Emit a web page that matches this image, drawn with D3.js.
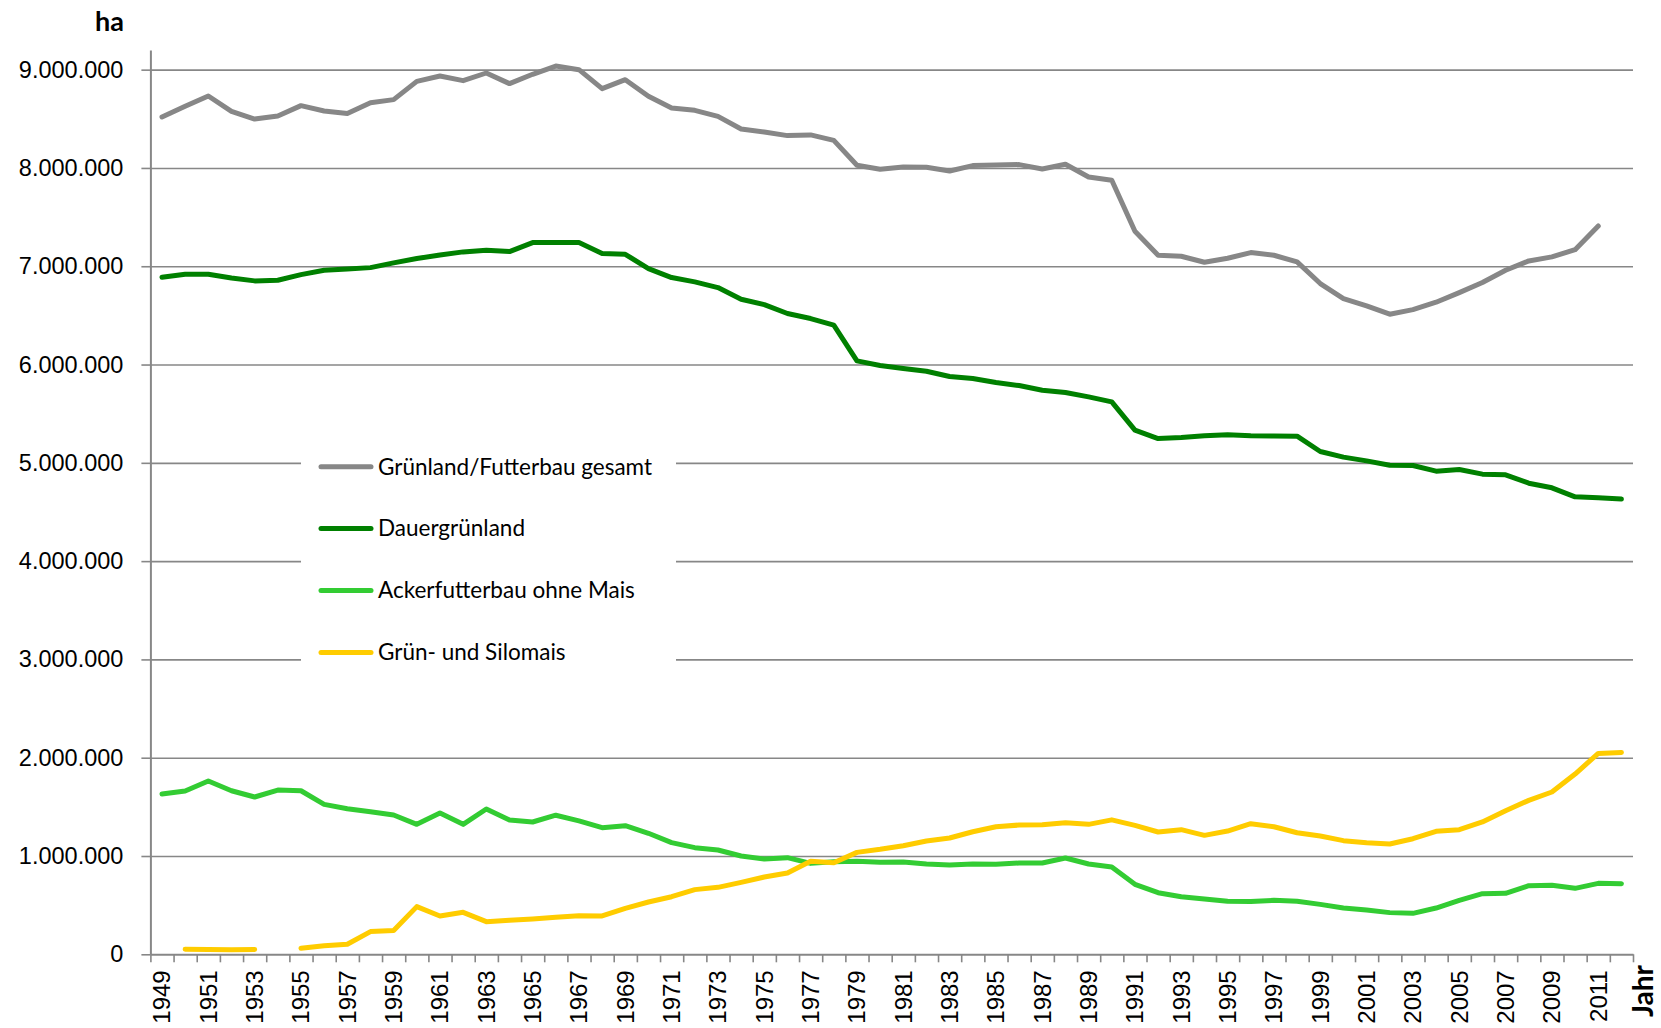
<!DOCTYPE html>
<html>
<head>
<meta charset="utf-8">
<script src="https://cdn.jsdelivr.net/npm/d3@7"></script>
<style>
  body { margin: 0; background: #fff; }
  svg { display: block; font-family: Lato, "Open Sans", sans-serif; }
</style>
</head>
<body>
<svg id="chart"></svg>
<script>
// years on the x axis
const years = d3.range(1949, 2013);

// values in hectares, one per year (null = no value)
const gesamt = [
  8519000, 8627000, 8732000, 8576000, 8498000, 8529000, 8634000, 8580000, 8553000, 8664000,
  8695000, 8881000, 8936000, 8888000, 8966000, 8858000, 8953000, 9037000, 9000000, 8807000,
  8898000, 8729000, 8610000, 8586000, 8525000, 8397000, 8366000, 8329000, 8336000, 8281000,
  8027000, 7986000, 8010000, 8007000, 7969000, 8024000, 8031000, 8034000, 7990000, 8037000,
  7908000, 7875000, 7356000, 7112000, 7102000, 7041000, 7081000, 7139000, 7112000, 7044000,
  6824000, 6671000, 6597000, 6512000, 6559000, 6634000, 6732000, 6834000, 6959000, 7054000,
  7095000, 7169000, 7410000, null
];
const dauergruenland = [
  6888000, 6919000, 6919000, 6881000, 6851000, 6858000, 6915000, 6959000, 6973000, 6986000,
  7034000, 7078000, 7115000, 7146000, 7163000, 7149000, 7241000, 7241000, 7241000, 7129000,
  7122000, 6976000, 6885000, 6841000, 6783000, 6664000, 6610000, 6519000, 6468000, 6400000,
  6037000, 5990000, 5959000, 5932000, 5878000, 5858000, 5817000, 5786000, 5739000, 5715000,
  5671000, 5620000, 5332000, 5247000, 5258000, 5275000, 5285000, 5275000, 5273000, 5271000,
  5115000, 5058000, 5020000, 4976000, 4973000, 4915000, 4932000, 4885000, 4878000, 4793000,
  4746000, 4654000, 4644000, 4631000
];
const ackerfutter = [
  1631000, 1661000, 1763000, 1664000, 1600000, 1671000, 1664000, 1525000, 1481000, 1451000,
  1417000, 1322000, 1437000, 1322000, 1478000, 1366000, 1346000, 1415000, 1358000, 1288000,
  1308000, 1231000, 1136000, 1085000, 1061000, 1000000, 969000, 983000, 925000, 942000,
  946000, 936000, 939000, 919000, 908000, 919000, 915000, 929000, 929000, 980000,
  919000, 888000, 712000, 627000, 586000, 563000, 539000, 536000, 549000, 539000,
  508000, 471000, 451000, 424000, 417000, 471000, 549000, 617000, 620000, 698000,
  702000, 671000, 722000, 719000
];
const silomais = [
  null, 51000, 50000, 47000, 50000, null, 61000, 88000, 102000, 231000,
  241000, 485000, 390000, 427000, 332000, 346000, 359000, 376000, 393000, 390000,
  468000, 532000, 586000, 658000, 681000, 732000, 786000, 827000, 946000, 932000,
  1037000, 1068000, 1105000, 1153000, 1183000, 1247000, 1298000, 1315000, 1319000, 1339000,
  1322000, 1368000, 1312000, 1244000, 1268000, 1210000, 1254000, 1329000, 1298000, 1237000,
  1203000, 1156000, 1136000, 1122000, 1176000, 1251000, 1268000, 1346000, 1461000, 1566000,
  1651000, 1834000, 2044000, 2054000
];

const seriesNames = [
  "Grünland/Futterbau gesamt",
  "Dauergrünland",
  "Ackerfutterbau ohne Mais",
  "Grün- und Silomais",
];
const seriesColors = ["#878787", "#008000", "#33cc33", "#ffcc00"];
const seriesValues = [gesamt, dauergruenland, ackerfutter, silomais];

const yTicks = [0, 1000000, 2000000, 3000000, 4000000, 5000000, 6000000, 7000000, 8000000, 9000000];

// chart dimensions
const width = 1661;
const height = 1028;
const plotLeft = 150.4;
const plotRight = 1633;
const plotTop = 50;
const plotBottom = 954.3;

const de = d3.formatLocale({ decimal: ",", thousands: ".", grouping: [3], currency: ["", " €"] });
const fmt = de.format(",d");

const svg = d3.select("#chart").attr("width", width).attr("height", height);

const xScale = d3.scaleBand().domain(years).range([plotLeft, plotRight]).padding(0);
const xEdge = d3.scaleLinear().domain([0, years.length]).range([plotLeft, plotRight]);
const yScale = d3.scaleLinear().domain([0, 9200000]).range([plotBottom, plotTop]);

// gridlines
svg.append("g")
  .attr("transform", "translate(" + plotLeft + ",0)")
  .call(d3.axisLeft(yScale).tickValues(yTicks.slice(1)).tickSize(-(plotRight - plotLeft)).tickFormat(""))
  .call((g) => g.select(".domain").remove())
  .call((g) => g.selectAll("line").attr("stroke", "#878787").attr("stroke-width", 1.6));

// y axis
svg.append("g")
  .attr("id", "y-axis")
  .attr("transform", "translate(" + plotLeft + ",0)")
  .call(d3.axisLeft(yScale).tickValues(yTicks).tickSizeInner(9).tickSizeOuter(0).tickPadding(18).tickFormat(fmt))
  .call((g) => g.select(".domain").attr("stroke", "#878787").attr("stroke-width", 2))
  .call((g) => g.selectAll("line").attr("stroke", "#878787").attr("stroke-width", 1.6))
  .call((g) => g.selectAll("text").attr("font-size", 23.5).attr("fill", "#000"));

// x axis: tick marks between categories
svg.append("g")
  .attr("transform", "translate(0," + plotBottom + ")")
  .call(d3.axisBottom(xEdge).tickValues(d3.range(years.length + 1)).tickSizeInner(8).tickSizeOuter(0).tickFormat(""))
  .call((g) => g.select(".domain").attr("stroke", "#878787").attr("stroke-width", 2))
  .call((g) => g.selectAll("line").attr("stroke", "#878787").attr("stroke-width", 1.6));

// x axis labels (every second year), rotated
svg.append("g")
  .attr("id", "x-axis")
  .attr("transform", "translate(0," + plotBottom + ")")
  .call(d3.axisBottom(xScale).tickValues(years.filter((y) => (y - 1949) % 2 === 0)).tickSize(0).tickFormat(d3.format("d")))
  .call((g) => g.select(".domain").remove())
  .call((g) =>
    g.selectAll("text")
      .attr("font-size", 24)
      .attr("fill", "#000")
      .attr("text-anchor", "end")
      .attr("transform", "translate(0,16) rotate(-90)")
      .attr("x", 0)
      .attr("y", 0)
      .attr("dy", "0.35em")
  );

// series lines
const line = d3.line()
  .defined((d) => d.v != null)
  .x((d) => xScale(d.year) + xScale.bandwidth() / 2)
  .y((d) => yScale(d.v));

seriesValues.forEach((vals, i) => {
  svg.append("path")
    .datum(years.map((year, j) => ({ year: year, v: vals[j] })))
    .attr("fill", "none")
    .attr("stroke", seriesColors[i])
    .attr("stroke-width", 5)
    .attr("stroke-linejoin", "round")
    .attr("stroke-linecap", "round")
    .attr("d", line);
});

// legend
const legend = svg.append("g");
legend.append("rect")
  .attr("x", 301)
  .attr("y", 420)
  .attr("width", 375)
  .attr("height", 270)
  .attr("fill", "#fff");

seriesNames.forEach((name, i) => {
  const ly = 466.7 + i * 61.9;
  legend.append("line")
    .attr("x1", 321).attr("x2", 371)
    .attr("y1", ly).attr("y2", ly)
    .attr("stroke", seriesColors[i])
    .attr("stroke-width", 5)
    .attr("stroke-linecap", "round");
  legend.append("text")
    .attr("x", 378)
    .attr("y", ly)
    .attr("dy", "0.35em")
    .attr("font-size", 22.5)
    .attr("fill", "#000")
    .text(name);
});

// axis titles
svg.append("text")
  .attr("x", 124)
  .attr("y", 31)
  .attr("text-anchor", "end")
  .attr("font-size", 27)
  .attr("font-weight", "bold")
  .text("ha");

svg.append("text")
  .attr("transform", "translate(1643,965) rotate(-90)")
  .attr("text-anchor", "end")
  .attr("dy", "0.35em")
  .attr("font-size", 28)
  .attr("font-weight", "bold")
  .text("Jahr");
</script>
</body>
</html>
